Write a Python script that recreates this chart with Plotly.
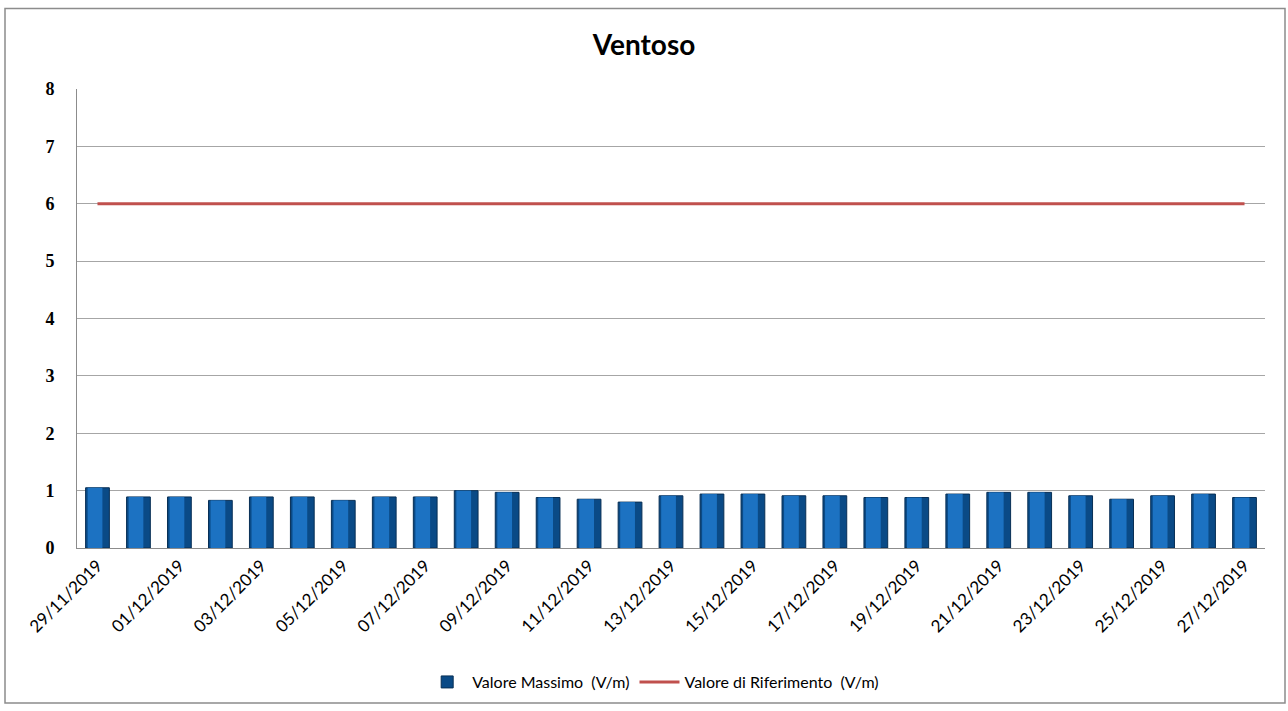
import plotly.graph_objects as go

dates = ["29/11/2019", "30/11/2019", "01/12/2019", "02/12/2019", "03/12/2019",
         "04/12/2019", "05/12/2019", "06/12/2019", "07/12/2019", "08/12/2019",
         "09/12/2019", "10/12/2019", "11/12/2019", "12/12/2019", "13/12/2019",
         "14/12/2019", "15/12/2019", "16/12/2019", "17/12/2019", "18/12/2019",
         "19/12/2019", "20/12/2019", "21/12/2019", "22/12/2019", "23/12/2019",
         "24/12/2019", "25/12/2019", "26/12/2019", "27/12/2019"]
valore_massimo = [1.05, 0.89, 0.89, 0.83, 0.89, 0.89, 0.83, 0.89, 0.89, 1.00,
                  0.97, 0.88, 0.85, 0.80, 0.91, 0.94, 0.94, 0.91, 0.91, 0.88,
                  0.88, 0.94, 0.97, 0.97, 0.91, 0.85, 0.91, 0.94, 0.88]
valore_riferimento = [6, 6, 6, 6, 6, 6, 6, 6, 6, 6, 6, 6, 6, 6, 6, 6, 6, 6, 6, 6,
                      6, 6, 6, 6, 6, 6, 6, 6, 6]
y_ticks = [0, 1, 2, 3, 4, 5, 6, 7, 8]

fig = go.Figure()
fig.add_trace(go.Bar(
    x=dates, y=valore_massimo, name="Valore Massimo  (V/m)",
    width=0.58, marker=dict(color="#0A4A86", line=dict(color="#082F55", width=1)),
))
fig.add_trace(go.Bar(
    x=dates, y=valore_massimo, showlegend=False, hoverinfo="skip",
    width=0.36, offset=-0.24, marker=dict(color="#1C72C2", line=dict(width=0)),
))
fig.add_trace(go.Scatter(
    x=dates, y=valore_riferimento, name="Valore di Riferimento  (V/m)",
    mode="lines", line=dict(color="#C0504D", width=3),
))

fig.update_layout(
    width=1288, height=711,
    margin=dict(l=77, r=23, t=89, b=160),
    paper_bgcolor="white", plot_bgcolor="white",
    barmode="overlay",
    title=dict(text="<b>Ventoso</b>", x=0.5, xanchor="center", y=1 - 45 / 711,
               yanchor="middle", font=dict(family="Lato", size=28, color="black", weight=900)),
    showlegend=True,
    legend=dict(orientation="h", x=0.485, xanchor="center", y=-0.292, yanchor="middle",
                font=dict(family="Lato", size=16, color="black"),
                traceorder="normal", itemwidth=40),
    xaxis=dict(type="category", tickmode="array", tickvals=dates[::2], ticktext=dates[::2],
               tickangle=-45, tickfont=dict(family="Lato", size=17, color="black"),
               showline=True, linecolor="#8C8C8C", linewidth=1, showgrid=False,
               ticks="", mirror=False),
    yaxis=dict(range=[0, 8], tickvals=y_ticks, ticks="",
               tickfont=dict(family="Liberation Serif", size=18, color="black", weight="bold"),
               showline=True, linecolor="#8C8C8C", linewidth=1,
               showgrid=True, gridcolor="#A6A6A6", gridwidth=1, zeroline=False,
               ticklabelstandoff=18),
    shapes=[dict(type="rect", xref="paper", yref="paper",
                 x0=(5 - 77) / 1188, x1=(1285 - 77) / 1188,
                 y0=(551 - 707) / 462, y1=(551 - 8) / 462,
                 line=dict(color="#8C8C8C", width=1.5), fillcolor="rgba(0,0,0,0)", layer="below")],
)

fig.write_html("out.html")
